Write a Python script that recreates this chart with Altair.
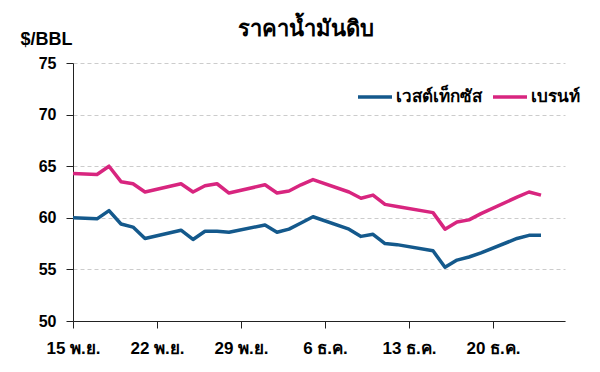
import altair as alt
import pandas as pd

dates = [
    "2025-11-15", "2025-11-17", "2025-11-18", "2025-11-19", "2025-11-20", "2025-11-21",
    "2025-11-24", "2025-11-25", "2025-11-26", "2025-11-27", "2025-11-28",
    "2025-12-01", "2025-12-02", "2025-12-03", "2025-12-04", "2025-12-05",
    "2025-12-08", "2025-12-09", "2025-12-10", "2025-12-11", "2025-12-12",
    "2025-12-15", "2025-12-16", "2025-12-17", "2025-12-18", "2025-12-19",
    "2025-12-22", "2025-12-23", "2025-12-24",
]
wti = [
    60.0, 59.9, 60.7, 59.4, 59.1, 58.0,
    58.8, 57.9, 58.7, 58.7, 58.6,
    59.3, 58.6, 58.9, 59.5, 60.1,
    58.9, 58.2, 58.4, 57.5, 57.4,
    56.8, 55.2, 55.9, 56.2, 56.6,
    58.0, 58.3, 58.3,
]
brent = [
    64.3, 64.2, 65.0, 63.5, 63.3, 62.5,
    63.3, 62.5, 63.1, 63.3, 62.4,
    63.2, 62.4, 62.6, 63.2, 63.7,
    62.5, 61.9, 62.2, 61.3, 61.1,
    60.5, 58.9, 59.6, 59.8, 60.4,
    62.0, 62.5, 62.2,
]
series_names = ["เวสต์เท็กซัส", "เบรนท์"]
series_colors = ["#14598c", "#d8257f"]
y_ticks = [50, 55, 60, 65, 70, 75]
x_tick_dates = [(11, 15), (11, 22), (11, 29), (12, 6), (12, 13), (12, 20)]

df = pd.concat([
    pd.DataFrame({"date": dates, "price": wti, "series": series_names[0]}),
    pd.DataFrame({"date": dates, "price": brent, "series": series_names[1]}),
])

FONT = "Liberation Sans"

x_values = [alt.DateTime(year=2025, month=m, date=d, utc=True) for m, d in x_tick_dates]

chart = alt.Chart(df).mark_line(strokeWidth=3.5, strokeJoin="round").encode(
    x=alt.X(
        "date:T",
        scale=alt.Scale(
            type="utc",
            domain=[alt.DateTime(year=2025, month=11, date=15, utc=True),
                    alt.DateTime(year=2025, month=12, date=26, utc=True)],
        ),
        axis=alt.Axis(
            values=x_values,
            labelExpr="utcdate(datum.value) + (utcmonth(datum.value) == 10 ? ' พ.ย.' : ' ธ.ค.')",
            title=None,
            grid=False,
            tickSize=7,
            tickColor="#222222",
            domainColor="#222222",
            labelFontSize=17,
            labelFontWeight="bold",
            labelColor="#000000",
            labelPadding=12,
            labelFont=FONT,
            labelFlush=False,
            labelOverlap=False,
        ),
    ),
    y=alt.Y(
        "price:Q",
        scale=alt.Scale(domain=[50, 75], nice=False, zero=False),
        axis=alt.Axis(
            values=y_ticks,
            title="$/BBL",
            titleAngle=0,
            titleAlign="left",
            titleBaseline="alphabetic",
            titleX=-53,
            titleY=-19,
            titleFontSize=18,
            titleFontWeight="bold",
            titleColor="#000000",
            titleFont=FONT,
            tickSize=7,
            tickColor="#222222",
            domainColor="#222222",
            labelFontSize=16,
            labelFontWeight="bold",
            labelColor="#000000",
            labelPadding=10,
            labelFont=FONT,
            gridDash=[4, 3],
            gridColor="#cccccc",
        ),
    ),
    color=alt.Color(
        "series:N",
        scale=alt.Scale(domain=series_names, range=series_colors),
        legend=alt.Legend(
            title=None,
            orient="none",
            direction="horizontal",
            legendX=283,
            legendY=15,
            symbolType="stroke",
            symbolSize=1156,
            symbolStrokeWidth=3.5,
            labelFontSize=17,
            labelFontWeight="bold",
            labelColor="#000000",
            labelFont=FONT,
            columnPadding=4,
            labelOffset=2,
        ),
    ),
).properties(
    width=492,
    height=258,
    title=alt.TitleParams(
        "ราคาน้ำมันดิบ",
        anchor="middle",
        fontSize=22,
        fontWeight="bold",
        font=FONT,
        color="#000000",
        dx=-13,
        dy=29,
        offset=18,
    ),
    autosize=alt.AutoSizeParams(type="none"),
    padding={"left": 65, "top": 55, "right": 27, "bottom": 43},
).configure_view(stroke=None).configure_axisX(grid=False)

chart.save("out.html", embed_options={"renderer": "svg", "actions": False})
